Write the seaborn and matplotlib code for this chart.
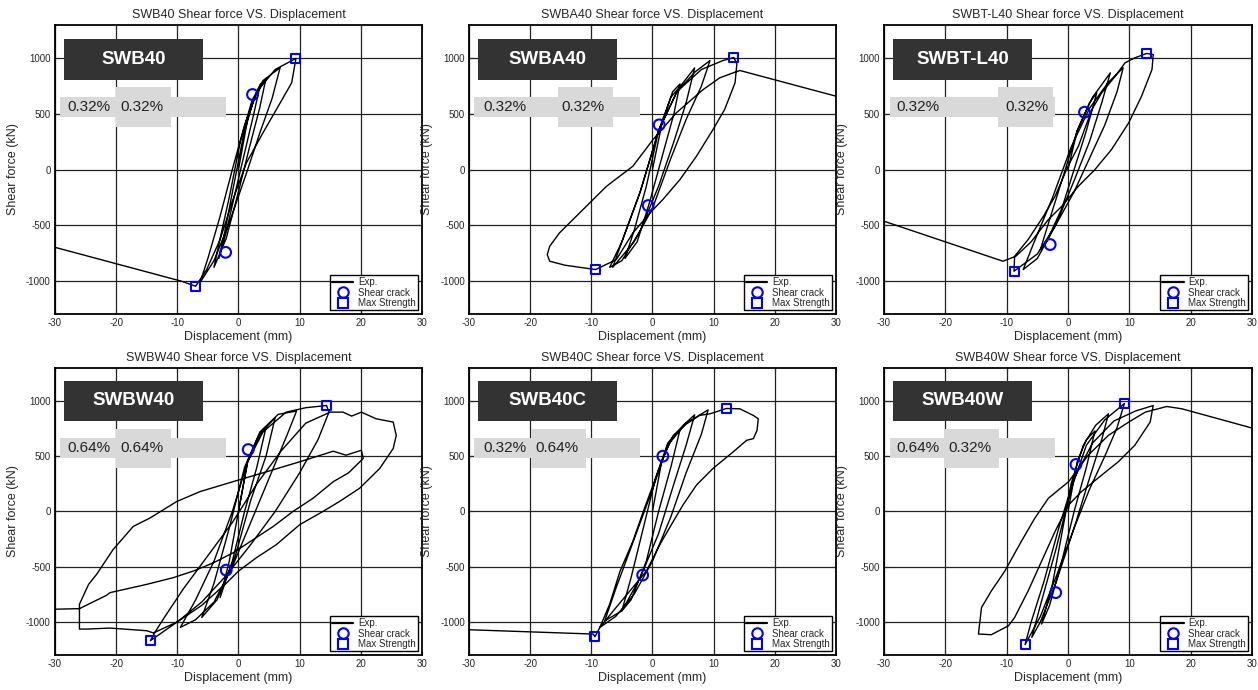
import matplotlib
matplotlib.use("Agg")
import matplotlib.pyplot as plt
from matplotlib.lines import Line2D
from matplotlib.patches import Rectangle
import seaborn as sns

# =========================================================
# DATA
# =========================================================

panel_names = ["SWB40", "SWBA40", "SWBT-L40", "SWBW40", "SWB40C", "SWB40W"]
ratio_left = ["0.32%", "0.32%", "0.32%", "0.64%", "0.32%", "0.64%"]
ratio_right = ["0.32%", "0.32%", "0.32%", "0.64%", "0.64%", "0.32%"]

# hysteresis paths: displacement (mm) / shear force (kN)
swb40_x = [0, 1.5, 3.0, 3.6, 2.5, 1.0, -0.5, -2.0, -3.2,
           -2.2, -0.8, 0.8, 2.5, 4.5, 3.5, 1.8, 0.0, -2.0, -4.0,
           -3.0, -1.5, 0.3, 2.2, 4.0, 6.8, 5.5, 3.5, 1.2, -1.5, -4.0, -6.3,
           -5.0, -3.0, -1.0, 1.0, 3.0, 6.0, 9.4,
           8.7, 6.2, 4.0, 1.3, -0.9, -3.0, -5.2, -7.0, -9.3, -30]
swb40_y = [0, 450, 700, 770, 500, 150, -200, -560, -800,
           -550, -150, 300, 640, 820, 560, 200, -200, -620, -880,
           -620, -250, 250, 620, 800, 915, 640, 330, -50, -480, -820, -1020,
           -800, -420, 0, 400, 700, 900, 1000,
           780, 540, 330, 60, -270, -630, -900, -1050, -1005, -700]

swba40_x = [0, 1.5, 3.3, 4.5, 3.5, 1.5, -0.5, -2.5, -4.5,
            -3.0, -1.0, 1.0, 3.0, 5.0, 6.9, 5.5, 3.5, 1.0, -2.0, -5.0, -7.0,
            -5.0, -2.0, 1.0, 4.0, 7.0, 9.4, 8.0, 5.5, 3.0, 0.0, -3.0, -6.5,
            -5.0, -2.0, 1.0, 4.0, 8.0, 11.5, 13.3,
            13.8, 13.5, 11.8, 9.9, 7.2, 4.5, 1.7, -0.4, -3.2, -5.9, -9.3,
            -14.3, -16.8, -17.2, -16.8, -15.2, -11.9, -7.5, -3.2, 0.1, 3.9,
            8.3, 11.0, 13.2, 14.3, 30]
swba40_y = [0, 400, 700, 770, 500, 100, -300, -650, -800,
            -550, -150, 350, 650, 780, 915, 600, 250, -150, -550, -820, -880,
            -650, -200, 350, 700, 880, 980, 750, 450, 100, -350, -650, -880,
            -650, -200, 350, 700, 900, 980, 1008,
            950, 780, 540, 360, 120, -90, -270, -390, -570, -810, -900,
            -861, -825, -765, -690, -570, -390, -150, 30, 270, 510,
            720, 825, 870, 891, 660]

swbtl40_x = [0, 1.5, 3.5, 4.7, 3.0, 1.0, -1.0, -3.5, -4.5,
             -3.0, -1.0, 1.5, 4.0, 6.9, 5.5, 3.5, 1.0, -2.0, -5.0, -7.3,
             -5.5, -2.5, 0.5, 3.5, 6.5, 9.0, 8.0, 6.0, 3.5, 1.0, -2.0, -5.0, -8.8,
             -8.7, -6.5, -4.0, -2.1, 0.0, 1.7, 3.9, 5.5, 7.7, 9.3, 10.9, 12.8, 13.9,
             13.7, 12.0, 9.9, 7.1, 4.4, 1.7, -1.0, -3.2, -6.0, -8.5, -10.6, -30]
swbtl40_y = [0, 350, 600, 690, 350, 0, -350, -650, -720,
             -450, -100, 350, 650, 870, 600, 250, -100, -500, -800, -900,
             -650, -250, 200, 550, 780, 915, 700, 400, 100, -200, -500, -760, -915,
             -780, -630, -420, -240, 30, 210, 540, 690, 840, 960, 1005, 1044, 1035,
             900, 660, 420, 180, 0, -150, -330, -450, -650, -780, -825, -465]

swbw40_x = [0, 1.5, 3.0, 4.5, 3.0, 1.0, -1.0, -3.0,
            -1.5, 0.0, 1.5, 3.5, 6.0, 4.5, 2.0, -0.5, -3.5, -6.0,
            -4.0, -1.5, 1.0, 3.5, 6.5, 9.5, 8.0, 5.0, 2.0, -1.0, -4.0, -7.0, -9.5,
            -7.0, -4.0, -1.0, 1.5, 4.0, 7.8, 11.0, 14.4,
            14.8, 13.0, 10.0, 6.0, 2.0, -2.0, -6.0, -10.0, -14.4,
            -13.5, -12.0, -9.0, -5.0, -1.0, 3.0, 7.0, 11.0, 15.0, 17.1, 18.5,
            20.1, 22.5, 25.3, 25.8, 25.3, 23.1, 19.8, 16.5, 13.8, 10.0, 6.2,
            2.9, 0.0, -2.0, -6.0, -10.0, -13.9, -15.0, -21.0, -24.8, -26.0,
            -26.0, -24.5, -23.2, -20.5, -17.2, -14.5, -10.1, -6.3, -0.9, 4.6,
            10.0, 15.5, 17.6, 20.1, 20.4, 18.0, 15.5, 12.2, 8.9, 5.7, 2.4,
            -0.9, -4.1, -7.4, -10.7, -15.0, -21.0, -21.6, -26.0, -30]
swbw40_y = [0, 450, 650, 760, 400, 0, -450, -780,
            -450, 0, 450, 700, 850, 500, 100, -400, -800, -960,
            -650, -150, 400, 720, 880, 910, 700, 300, -100, -500, -820, -980, -1050,
            -800, -450, 0, 450, 720, 900, 940, 960,
            900, 650, 350, 0, -300, -580, -820, -1000, -1170,
            -1080, -950, -700, -400, -100, 250, 550, 800, 900, 900, 864,
            900, 840, 810, 690, 570, 390, 210, 90, 0, -120, -300,
            -420, -540, -650, -850, -1000, -1100, -1080, -1056, -1065, -1065,
            -840, -660, -570, -345, -135, -60, 90, 180, 270, 360,
            450, 546, 510, 555, 480, 350, 270, 120, 0, -135, -255,
            -375, -465, -540, -600, -660, -735, -760, -880, -885]

swb40c_x = [0, 1.5, 3.0, 4.5, 3.0, 1.0, -1.0, -3.5, -5.0,
            -3.5, -1.5, 0.5, 2.5, 5.0, 6.9, 5.5, 3.5, 1.0, -2.0, -5.0, -7.8,
            -6.0, -3.0, 0.0, 2.5, 5.5, 9.1, 8.0, 5.5, 3.0, 0.0, -3.0, -6.0, -8.6,
            -7.0, -5.3, -3.2, -1.5, 0.1, 1.7, 3.4, 5.6, 7.7, 9.4, 12.1, 14.3,
            16.5, 17.3, 17.1, 16.5, 15.4, 13.2, 9.9, 7.2, 5.0, 3.4, 1.2, -1.0,
            -3.7, -6.4, -8.6, -9.4, -9.7, -30]
swb40c_y = [0, 450, 650, 740, 400, 0, -450, -800, -900,
            -600, -150, 300, 620, 780, 876, 600, 250, -200, -600, -900, -990,
            -700, -250, 200, 600, 800, 920, 700, 350, -50, -450, -750, -950, -1050,
            -840, -540, -270, 0, 240, 480, 690, 795, 870, 885, 933, 930,
            870, 840, 735, 660, 645, 540, 390, 240, 60, -90, -300, -540,
            -720, -900, -1050, -1134, -1110, -1071]

swb40w_x = [0, 1.5, 3.0, 4.4, 3.0, 1.0, -1.0, -3.0, -4.3,
            -2.5, -1.0, 0.5, 2.5, 4.5, 6.6, 5.5, 3.5, 1.0, -2.0, -4.5, -5.9,
            -4.5, -2.0, 0.5, 3.0, 6.0, 9.2, 8.0, 6.0, 3.5, 1.0, -2.0, -4.5, -7.0,
            -6.0, -4.0, -1.5, 1.0, 4.0, 7.5, 11.0, 13.9,
            13.4, 10.9, 8.2, 5.5, 2.2, 0.1, -2.1, -4.3, -6.5, -8.7, -9.7, -12.5,
            -14.6, -14.1, -12.5, -10.3, -7.6, -5.4, -3.2, 0.1, 3.3, 6.6, 9.9,
            12.6, 16.1, 18.6, 30]
swb40w_y = [0, 450, 650, 730, 400, 0, -450, -850, -1020,
            -650, -200, 250, 600, 780, 885, 650, 300, -150, -650, -1000, -1140,
            -850, -350, 200, 600, 830, 978, 760, 500, 200, -150, -600, -950, -1206,
            -1000, -650, -150, 300, 620, 820, 910, 960,
            810, 600, 450, 330, 180, 60, -180, -450, -720, -960, -1035, -1116,
            -1110, -870, -720, -540, -270, -60, 120, 270, 510, 690, 810,
            900, 951, 930, 756]

curves_x = [swb40_x, swba40_x, swbtl40_x, swbw40_x, swb40c_x, swb40w_x]
curves_y = [swb40_y, swba40_y, swbtl40_y, swbw40_y, swb40c_y, swb40w_y]

# shear crack points (positive, negative)
crack_x = [[2.3, -2.1], [1.1, -0.7], [2.7, -2.9], [1.6, -2.0], [1.7, -1.6], [1.3, -2.0]]
crack_y = [[675, -745], [402, -324], [516, -675], [561, -531], [501, -576], [426, -735]]

# max strength points (positive, negative)
max_x = [[9.4, -7.0], [13.3, -9.3], [12.8, -8.8], [14.4, -14.4], [12.1, -9.4], [9.2, -7.0]]
max_y = [[1000, -1050], [1008, -900], [1044, -915], [960, -1170], [933, -1134], [978, -1206]]

# label box layout (axes fraction): tall grey box start, text positions
tall_box_x0 = [0.166, 0.243, 0.310, 0.166, 0.169, 0.163]
text1_x = [0.033, 0.038, 0.033, 0.033, 0.038, 0.033]
text2_x = [0.177, 0.253, 0.329, 0.177, 0.182, 0.176]

# =========================================================
# STYLE
# =========================================================

sns.set_style("white")
plt.rcParams["font.family"] = ["Liberation Sans", "DejaVu Sans"]
plt.rcParams["axes.unicode_minus"] = False

fig = plt.figure(figsize=(12.58, 6.90), dpi=100)

col_left = [0.0437, 0.3728, 0.7027]
col_width = [0.2917, 0.2917, 0.2925]
row_bottom = [0.5449, 0.0507]
row_height = [0.4188, 0.4160]

legend_handles = [
    Line2D([], [], color="black", lw=1.6),
    Line2D([], [], marker="o", ls="none", mfc="none", mec="blue", ms=7.5, mew=1.5),
    Line2D([], [], marker="s", ls="none", mfc="none", mec="blue", ms=7, mew=1.5),
]
legend_labels = ["Exp.", "Shear crack", "Max Strength"]

for i, name in enumerate(panel_names):
    r, c = divmod(i, 3)
    ax = fig.add_axes([col_left[c], row_bottom[r], col_width[c], row_height[r]])

    sns.lineplot(x=curves_x[i], y=curves_y[i], sort=False, estimator=None,
                 color="black", linewidth=1.0, ax=ax, zorder=3)
    sns.scatterplot(x=crack_x[i], y=crack_y[i], marker="o", s=60,
                    facecolor="none", edgecolor="blue", linewidth=1.5, ax=ax, zorder=5)
    sns.scatterplot(x=max_x[i], y=max_y[i], marker="s", s=42,
                    facecolor="none", edgecolor="blue", linewidth=1.5, ax=ax, zorder=5)

    ax.set_xlim(-30, 30)
    ax.set_ylim(-1300, 1300)
    ax.set_xticks([-30, -20, -10, 0, 10, 20, 30])
    ax.set_yticks([-1000, -500, 0, 500, 1000])
    ax.grid(True, color="#222222", linewidth=0.9)
    ax.set_axisbelow(True)
    ax.tick_params(direction="in", length=3, labelsize=7, pad=3,
                   right=True, top=True, left=True, bottom=True)
    for sp in ax.spines.values():
        sp.set_color("black")
        sp.set_linewidth(1.3)

    ax.set_title(f"{name} Shear force VS. Displacement", fontsize=9, pad=5)
    ax.set_xlabel("Displacement (mm)", fontsize=9, labelpad=2)
    ax.set_ylabel("Shear force (kN)", fontsize=9, labelpad=5)

    # name box
    dy = 0.004 if r == 1 else 0.0
    ax.add_patch(Rectangle((0.024, 0.81 + dy), 0.379, 0.142, transform=ax.transAxes,
                           facecolor="#333333", edgecolor="none", zorder=6))
    ax.text(0.214, 0.881 + dy, name, transform=ax.transAxes, color="white",
            fontsize=13.5, fontweight="bold", ha="center", va="center", zorder=7)
    # ratio boxes
    ax.add_patch(Rectangle((0.015, 0.682 + dy), 0.45, 0.069, transform=ax.transAxes,
                           facecolor="#d9d9d9", edgecolor="none", zorder=6))
    ax.add_patch(Rectangle((tall_box_x0[i], 0.647 + dy), 0.15, 0.138, transform=ax.transAxes,
                           facecolor="#d9d9d9", edgecolor="none", zorder=6))
    ax.text(text1_x[i], 0.716 + dy, ratio_left[i], transform=ax.transAxes,
            color="#222222", fontsize=11, ha="left", va="center", zorder=7)
    ax.text(text2_x[i], 0.716 + dy, ratio_right[i], transform=ax.transAxes,
            color="#222222", fontsize=11, ha="left", va="center", zorder=7)

    leg = ax.legend(legend_handles, legend_labels, loc="lower right", fontsize=7,
                    frameon=True, fancybox=False, framealpha=1, edgecolor="black",
                    borderpad=0.2, labelspacing=0.05, handlelength=2.2,
                    handletextpad=0.5, borderaxespad=0.4)
    leg.get_frame().set_linewidth(1.0)
    leg.set_zorder(8)

fig.savefig("out.png", dpi=100)
